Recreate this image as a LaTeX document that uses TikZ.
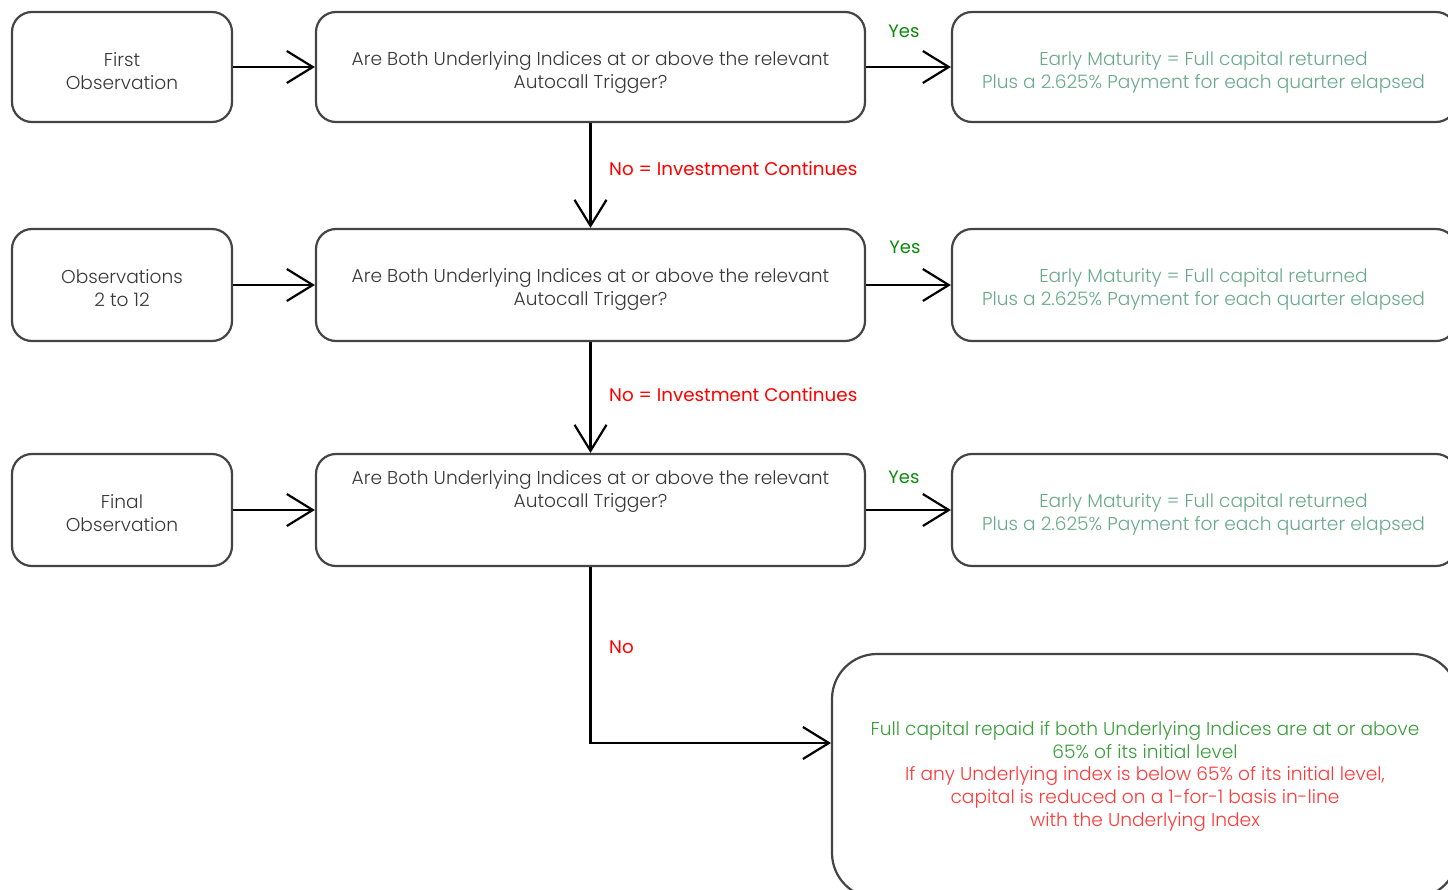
\documentclass[tikz,border=0pt]{standalone}
\usepackage{fontspec}
\setmainfont{Poppins}[UprightFont={* Light}]
\newfontfamily\labfont{Poppins}
\usetikzlibrary{arrows.meta}
\definecolor{boxline}{HTML}{444444}
\definecolor{txtgray}{HTML}{383838}
\definecolor{mintxt}{HTML}{6AAA8C}
\definecolor{yesgreen}{HTML}{0A8A0A}
\definecolor{nored}{HTML}{FF0000}
\definecolor{fullgreen}{HTML}{3A9E3A}
\definecolor{lossred}{HTML}{FF3A3A}
\begin{document}
\begin{tikzpicture}[x=1pt,y=-1pt,
  box/.style={draw=boxline, line width=2.2pt, rounded corners=20pt, inner sep=0pt, fill=white},
  leftbox/.style={box, minimum width=220pt, minimum height=110pt},
  midbox/.style={box, minimum width=549pt, minimum height=110pt},
  rightbox/.style={box, minimum width=504pt, minimum height=112pt},
  txt/.style={font=\fontsize{18.6}{23}\selectfont, align=center, text=txtgray, inner sep=0pt},
  mint/.style={txt, text=mintxt},
  conn/.style={draw=black, line width=2.2pt, -{Straight Barb[length=26pt,width=32pt,line width=2.2pt]}},
  yeslab/.style={font=\labfont\fontsize{18}{20}\selectfont, text=yesgreen, inner sep=0pt},
  nolab/.style={font=\labfont\fontsize{18.3}{20}\selectfont, text=nored, inner sep=0pt, anchor=west}
]
\useasboundingbox (0,0) rectangle (1448,889);
\clip (0,0) rectangle (1448,889);

% left boxes
\node[leftbox] (l1) at (122,67) {};
\node[txt] (l1t) at (122,71) {First\\Observation};
\node[leftbox, minimum height=112pt] (l2) at (122,285) {};
\node[txt] (l2t) at (122,288.5) {Observations\\2 to 12};
\node[leftbox, minimum height=112pt] (l3) at (122,510) {};
\node[txt] (l3t) at (122,513.5) {Final\\Observation};

% middle boxes
\node[midbox] (m1) at (590.5,67) {};
\node[txt] (m1t) at (590.5,72.5) {Are Both Underlying Indices at or above the relevant\\Autocall Trigger?};
\node[midbox, minimum height=112pt] (m2) at (590.5,285) {};
\node[txt] (m2t) at (590.5,289.5) {Are Both Underlying Indices at or above the relevant\\Autocall Trigger?};
\node[midbox, minimum height=112pt] (m3) at (590.5,510) {};
\node[txt] (m3t) at (590.5,491.5) {Are Both Underlying Indices at or above the relevant\\Autocall Trigger?};

% right boxes
\node[rightbox, minimum height=110pt] (r1) at (1204,67) {};
\node[mint] (r1t) at (1203.5,72.5) {Early Maturity = Full capital returned\\Plus a 2.625\% Payment for each quarter elapsed};
\node[rightbox] (r2) at (1204,285) {};
\node[mint] (r2t) at (1203.5,289.5) {Early Maturity = Full capital returned\\Plus a 2.625\% Payment for each quarter elapsed};
\node[rightbox] (r3) at (1204,510) {};
\node[mint] (r3t) at (1203.5,514.5) {Early Maturity = Full capital returned\\Plus a 2.625\% Payment for each quarter elapsed};

% bottom box
\node[box, rounded corners=45pt, minimum width=626pt, minimum height=244pt] (b) at (1145,776) {};
\node[txt, text=fullgreen] (bt1) at (1145,740) {Full capital repaid if both Underlying Indices are at or above\\65\% of its initial level};
\node[txt, text=lossred] (bt2) at (1145,798.5) {If any Underlying index is below 65\% of its initial level,\\capital is reduced on a 1-for-1 basis in-line\\with the Underlying Index};

% connectors
\draw[conn] (l1.east) -- (m1.west);
\draw[conn] (l2.east) -- (m2.west);
\draw[conn] (l3.east) -- (m3.west);
\draw[conn] (m1.east) -- (r1.west);
\draw[conn] (m2.east) -- (r2.west);
\draw[conn] (m3.east) -- (r3.west);
\draw[conn] (m1.south) -- (m2.north);
\draw[conn] (m2.south) -- (m3.north);
\coordinate (bend) at (831,743);
\draw[conn] (m3.south) |- (bend);

% labels
\node[yeslab] (y1) at (904,31) {Yes};
\node[yeslab] (y2) at (905,247) {Yes};
\node[yeslab] (y3) at (904,477) {Yes};
\node[nolab] (n1) at (609,169) {No = Investment Continues};
\node[nolab] (n2) at (609,395) {No = Investment Continues};
\node[nolab] (n3) at (609,647) {No};
\end{tikzpicture}
\end{document}
